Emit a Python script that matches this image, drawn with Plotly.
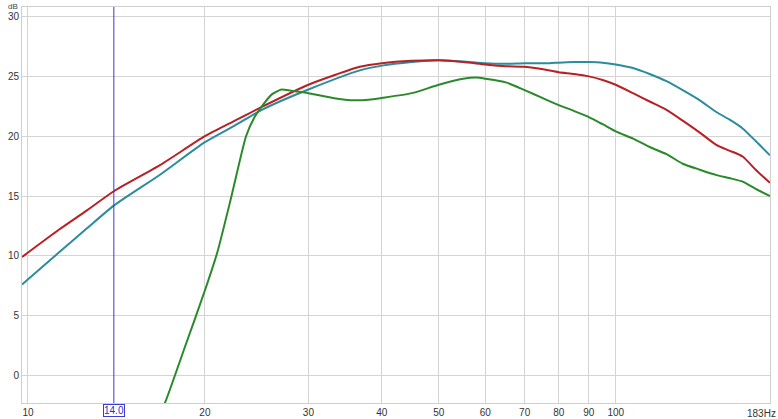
import plotly.graph_objects as go
import math

# Frequencies (Hz) and levels (dB)
red_f = [9.77, 11.3, 12.6, 14.0, 16.8, 20.0, 22.5, 25.0, 30.0, 36.7, 40.0, 45.0, 50.0, 55.0, 60.0, 65.0, 70.0, 77.2, 80.0, 85.0, 90.0, 95.0, 100.0, 107.0, 114.2, 122.0, 130.0, 139.0, 148.5, 156.0, 164.4, 173.0, 183.0]
red_db = [9.9, 12.2, 13.8, 15.4, 17.6, 20.0, 21.3, 22.45, 24.3, 25.8, 26.1, 26.3, 26.35, 26.2, 26.0, 25.85, 25.8, 25.5, 25.35, 25.2, 25.0, 24.7, 24.3, 23.6, 22.9, 22.2, 21.3, 20.3, 19.25, 18.8, 18.3, 17.2, 16.1]

teal_f = [9.77, 11.3, 12.6, 14.0, 16.8, 20.0, 22.5, 25.0, 30.0, 36.7, 40.0, 45.0, 50.0, 55.0, 60.0, 65.0, 70.0, 77.2, 80.0, 85.0, 90.0, 95.0, 100.0, 107.0, 114.2, 122.0, 130.0, 139.0, 148.5, 156.0, 164.4, 173.0, 183.0]
teal_db = [7.6, 10.3, 12.3, 14.2, 16.8, 19.5, 20.9, 22.2, 23.9, 25.5, 25.9, 26.2, 26.35, 26.25, 26.1, 26.05, 26.1, 26.1, 26.15, 26.2, 26.2, 26.15, 26.0, 25.7, 25.2, 24.6, 23.85, 23.0, 22.0, 21.4, 20.65, 19.6, 18.4]

green_f = [16.8, 17.1, 18.5, 20.0, 21.0, 22.2, 23.5, 24.3, 25.0, 26.0, 27.0, 28.0, 30.0, 33.0, 36.0, 38.0, 40.0, 45.0, 50.0, 55.0, 58.0, 60.0, 65.0, 70.0, 75.0, 80.0, 85.0, 90.0, 95.0, 100.0, 107.0, 114.2, 122.0, 130.0, 139.0, 148.5, 156.0, 164.4, 173.0, 183.0]
green_db = [-3.0, -2.3, 2.4, 7.1, 10.3, 15.0, 20.0, 21.6, 22.5, 23.5, 23.9, 23.8, 23.6, 23.2, 23.0, 23.05, 23.2, 23.6, 24.3, 24.8, 24.9, 24.8, 24.5, 23.85, 23.2, 22.6, 22.1, 21.6, 21.0, 20.4, 19.8, 19.1, 18.5, 17.7, 17.2, 16.75, 16.5, 16.2, 15.6, 15.0]

x_ticks = [10, 20, 30, 40, 50, 60, 70, 80, 90, 100, 183]
x_tick_text = ["10", "20", "30", "40", "50", "60", "70", "80", "90", "100", ""]
end_label = "183Hz"
y_ticks = [0, 5, 10, 15, 20, 25, 30]
cursor_f = 14.0

W, H = 778, 419
ML, MR, MT, MB = 22, 8, 7, 16
PW, PH = W - ML - MR, H - MT - MB

fig = go.Figure()
fig.add_trace(go.Scatter(x=teal_f, y=teal_db, mode="lines", line=dict(color="#2a8c9c", width=2, shape="spline", smoothing=0.6), showlegend=False))
fig.add_trace(go.Scatter(x=red_f, y=red_db, mode="lines", line=dict(color="#b82025", width=2, shape="spline", smoothing=0.6), showlegend=False))
fig.add_trace(go.Scatter(x=green_f, y=green_db, mode="lines", line=dict(color="#2a8a2a", width=2, shape="spline", smoothing=0.6), showlegend=False))

fig.add_shape(type="line", xref="x", yref="paper", x0=cursor_f, x1=cursor_f, y0=0, y1=1,
              line=dict(color="#3a3ad8", width=1))
fig.add_annotation(x=math.log10(cursor_f), xref="x", yref="paper", y=-1 / PH, yanchor="top",
                   text="14.0", showarrow=False, font=dict(color="#2a2ac8", size=10, family="Liberation Sans"),
                   bordercolor="#3a3ad8", borderwidth=1, borderpad=0, bgcolor="white")
fig.add_annotation(xref="paper", yref="paper", x=-2 / PW, y=1 + MT / PH, xanchor="right", yanchor="top",
                   text="dB", showarrow=False, font=dict(color="#444", size=8, family="Liberation Sans"))
fig.add_annotation(xref="paper", yref="paper", x=1 + MR / PW, y=-3 / PH, xanchor="right", yanchor="top",
                   text=end_label, showarrow=False, font=dict(color="#333", size=10, family="Liberation Sans"))

fig.update_layout(
    width=W, height=H,
    margin=dict(l=ML, r=MR, t=MT, b=MB, autoexpand=False),
    paper_bgcolor="white", plot_bgcolor="white",
    font=dict(family="Liberation Sans", size=10, color="#333"),
    xaxis=dict(type="log", range=[math.log10(9.77), math.log10(183)], automargin=False,
               tickvals=x_ticks, ticktext=x_tick_text, showgrid=True, gridcolor="#d4d4d4", gridwidth=1,
               showline=True, linecolor="#cfcfcf", mirror=True, ticks="", zeroline=False),
    yaxis=dict(range=[-2.3, 30.8], tickvals=y_ticks, showgrid=True, gridcolor="#d4d4d4", gridwidth=1,
               automargin=False, showline=True, linecolor="#cfcfcf", mirror=True, ticks="", zeroline=False),
)

fig.write_html("out.html", config={"displayModeBar": False},
               post_script="document.body.style.margin='0';document.body.style.padding='0';document.body.style.overflow='hidden';")
